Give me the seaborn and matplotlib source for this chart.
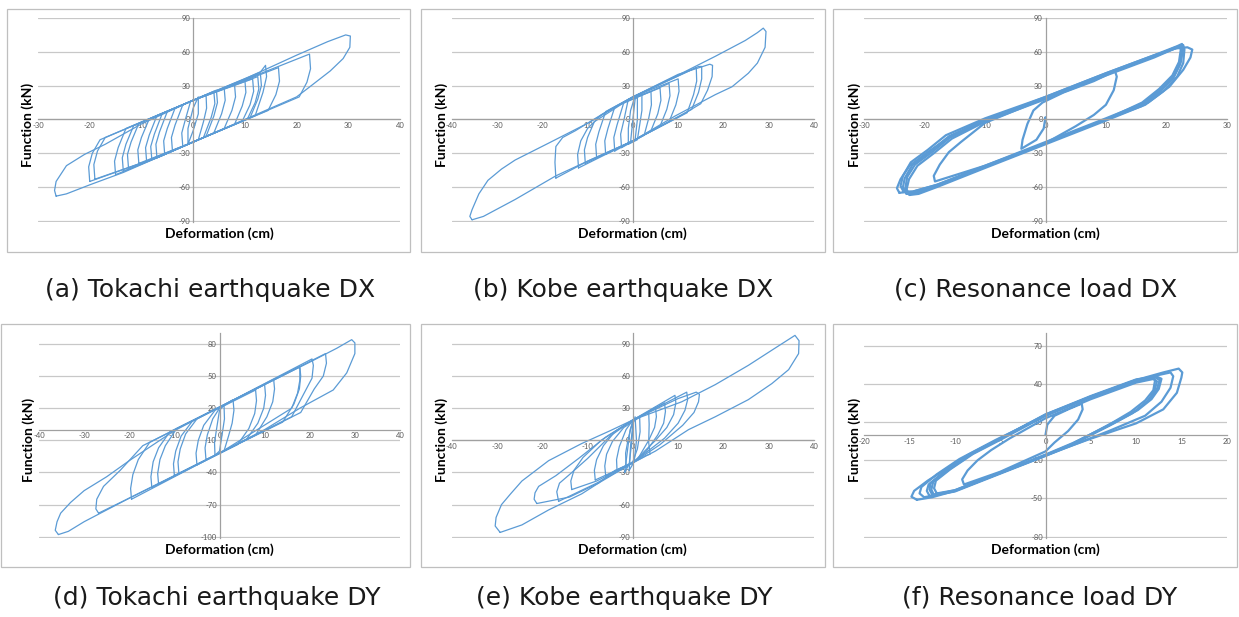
import matplotlib
matplotlib.use("Agg")
import matplotlib.pyplot as plt
import pandas as pd
import seaborn as sns
from matplotlib.patches import Rectangle

# ---- loops: (deformation cm, force kN) ----
tokachi_dx = [
    [(-26.5,-68),(-26.8,-63),(-26.5,-55),(-24.5,-41),(-21,-31),(-17,-22),(-10,-4),(0,17),(10,36),(20,57),(26,69),(29.5,75),(30.4,74),(30.3,64),(29,54),(26.5,43),(22,27),(20,20),(10,0),(0,-20),(-6.5,-33),(-13.5,-47),(-20,-58),(-24.5,-66),(-26.5,-68)],
    [(-20,-55),(-20.2,-42),(-19.5,-30),(-18,-18),(0,17),(22.5,58),(22.7,45),(22,33),(20.5,20),(0,-20),(-6.5,-33),(-20,-55)],
    [(-19,-53),(-19.2,-40),(-18.5,-28),(-17,-16),(0,17),(16.5,46),(16.7,34),(16,22),(14.5,8),(0,-20),(-6.5,-33),(-19,-53)],
    [(-13.5,-46),(-13.7,-34),(-13,-22),(-11.5,-5.5),(0,17),(13,42),(14,48),(14.2,38),(13.5,24),(12,3.4),(0,-20),(-6.5,-33),(-13.5,-46)],
    [(-15,-49),(-15.2,-37),(-14.5,-25),(-13,-8),(0,17),(13,41),(13.2,30),(12.5,18),(11,1.5),(0,-20),(-6.5,-33),(-15,-49)],
    [(-12.5,-43),(-12.7,-31),(-12,-20),(-10.5,-3.5),(0,17),(12.5,38),(12.7,27),(12,15),(10.5,0.5),(0,-20),(-6.5,-33),(-12.5,-43)],
    [(-10.5,-39),(-10.7,-27),(-10,-16),(-8.5,0.4),(0,17),(11.5,36),(11.7,25),(11,13),(9.5,-1.5),(0,-20),(-10.5,-39)],
    [(-9,-37),(-9.2,-25),(-8.5,-14),(-7,3.4),(0,17),(10,35),(10.2,24),(9.5,12),(8,-4.4),(0,-20),(-9,-37)],
    [(-8,-35),(-8.2,-24),(-7.5,-13),(-6,5),(0,17),(4.5,26),(4.7,15),(4,3),(2.5,-15),(0,-20),(-8,-35)],
    [(-7,-34),(-7.2,-22),(-6.5,-11),(-5,7),(0,17),(8,31),(8.2,20),(7.5,8),(6,-8),(0,-20),(-7,-34)],
    [(-5.5,-31),(-5.7,-19),(-5,-8),(-3.5,10),(0,17),(6,28),(6.2,17),(5.5,5),(4,-12),(0,-20),(-5.5,-31)],
    [(-4,-28),(-4.2,-16),(-3.5,-5),(-2,13),(4,25),(4.2,14),(3.5,2),(2,-16),(-4,-28)],
    [(-2,-24),(-2.2,-12),(-1.5,0),(-0.5,16),(2.5,22),(2.6,10),(2,-2),(1,-18),(-2,-24)],
    [(-1,-22),(-1,-8),(0,10),(1,20),(1,5),(0,-10),(-1,-22)],
]

kobe_dx = [
    [(-35.5,-89),(-36,-86),(-35.5,-80),(-34,-66),(-32,-54),(-29,-44),(-26,-36),(-18.6,-21),(-9.8,-3),(0,20),(10.8,41),(18.2,56),(24.8,70),(27.5,77),(28.8,81),(29.4,78),(29.2,64),(27.5,50),(25.5,41),(21.9,29),(18.2,22),(9.3,3),(0,-19),(-10,-37),(-17,-50),(-26,-71),(-33,-86),(-35.5,-89)],
    [(-17,-52),(-17.2,-38),(-17,-24),(-15.5,-16),(-12.7,-10),(-5,9),(0,20),(10,40),(17,49),(17.6,48),(17.5,38),(16.5,26),(15,14),(10,2),(0,-19),(-10,-37),(-17,-52)],
    [(-12,-43),(-12.2,-31),(-11.5,-19),(-10,-8),(-7,4),(0,20),(14.5,47),(15.2,47),(15.2,36),(14.5,24),(13,9),(0,-19),(-12,-43)],
    [(-10.5,-39),(-10.7,-27),(-10,-16),(-8.5,-2),(0,20),(14,46),(14.1,34),(13.4,22),(12,6),(0,-19),(-10.5,-39)],
    [(-8,-34),(-8.2,-22),(-7.5,-11),(-6,7),(0,20),(10,36),(10.2,25),(9.5,13),(8,-2),(0,-19),(-8,-34)],
    [(-6,-31),(-6.2,-19),(-5.5,-8),(-4,11),(8,32),(8.2,21),(7.5,9),(6,-6),(0,-19),(-6,-31)],
    [(-4,-28),(-4.2,-16),(-3.5,-5),(-2,15),(6,28),(6.2,17),(5.5,5),(4,-10),(-4,-28)],
    [(-2.5,-25),(-2.7,-13),(-2,-1),(-1,18),(4,25),(4.1,13),(3.5,1),(2.5,-14),(-2.5,-25)],
    [(-1,-22),(-1,-8),(-0.5,8),(0.5,21),(2,23),(2,8),(1.5,-5),(1,-18),(-1,-22)],
    [(-0.5,-20),(0,0),(0.5,18),(1,20),(1,0),(0.5,-18),(-0.5,-20)],
]

resonance_dx = [
    [(0,0),(0,2),(-0.3,-8),(-1.5,-18),(-4,-26),(-3.8,-18),(-3,-4),(-2,8),(-0.5,15),(3,24),(8,34),(11.5,43),(11.8,38),(11.3,26),(10,13),(8,4),(5,-6),(0,-21),(-10,-41),(-18.3,-55),(-18.5,-50),(-17.5,-40),(-16,-29),(-14,-20),(-10,-3),(0,19),(10,40),(20,60),(22.5,65)],
    [(-23,-66),(-23.6,-60),(-23.3,-52),(-22,-40),(-19,-28),(-16,-15),(-10,0),(0,19),(10,40),(18,56),(21.5,64),(22.8,66),(23,62),(22.8,50),(21.8,38),(19.5,25),(16.5,13),(10,0),(0,-21),(-10,-42),(-18,-59),(-21.5,-65),(-23,-66)],
    [(-24.2,-65),(-24.6,-61),(-24,-53),(-22.5,-41),(-19.5,-29),(-16,-16),(-10,-1),(0,20),(10,41),(18,57),(21.5,63),(23.5,64),(24.3,62),(24,55),(22.8,44),(20.5,29),(17,15),(10,0),(0,-21),(-10,-42),(-18,-58),(-22,-64),(-24.2,-65)],
    [(-22.5,-67),(-23,-62),(-22.6,-53),(-21.2,-41),(-18.5,-30),(-15.5,-17),(-10,-2),(0,18),(10,39),(18,55),(21,62),(22.3,65),(22.6,61),(22.3,49),(21.2,37),(19,25),(16,12),(10,-1),(0,-22),(-10,-43),(-18,-60),(-21,-66),(-22.5,-67)],
    [(-23.5,-64),(-24,-59),(-23.6,-50),(-22.3,-38),(-19.5,-27),(-16.5,-14),(-10,1),(0,20),(10,41),(18,57),(21.8,65),(22.6,67),(22.8,63),(22.4,51),(21.3,39),(19,26),(16,14),(10,1),(0,-20),(-10,-41),(-18,-58),(-22,-64),(-23.5,-64)],
    [(-22.8,-66),(-23.2,-61),(-22.9,-51),(-21.6,-40),(-18.8,-29),(-15.8,-16),(-10,-1),(0,19),(10,40),(18,56),(21.2,63),(22.1,65),(22.4,62),(22.1,51),(21,39),(18.8,27),(16,15),(10,0),(0,-21),(-10,-42),(-18,-59),(-21.2,-65),(-22.8,-66)],
]

tokachi_dy = [
    [(-35.7,-98),(-36.4,-94),(-36,-86),(-35.2,-78),(-33,-68),(-30,-57),(-25,-44),(-20,-29),(-15,-15),(-10,-1),(0,21),(10,42),(20,63),(26,76),(29.3,84),(30,81),(30,71),(28.2,53),(25.2,37),(17.8,20),(10,0),(0,-22),(-10,-43),(-20,-64),(-30,-86),(-33.5,-95),(-35.7,-98)],
    [(-26.8,-78),(-27.4,-74),(-27.2,-65),(-25.7,-53),(-22,-38),(-17,-15),(0,21),(23.5,71),(23.7,62),(23,50),(21,38),(18,16),(0,-22),(-20,-64),(-26.8,-78)],
    [(-19.5,-65),(-19.7,-55),(-19.2,-42),(-18,-28),(-15.5,-12),(0,21),(20.5,66),(20.8,60),(20.5,48),(19,36),(16,12),(0,-22),(-19.5,-65)],
    [(-15,-54),(-15.2,-44),(-14.7,-30),(-13.5,-17),(-11,-2),(0,21),(17.8,59),(18,50),(17.7,38),(16.5,24),(14,7),(0,-22),(-15,-54)],
    [(-13.5,-51),(-13.7,-41),(-13.2,-28),(-12,-15),(-9.5,1),(0,21),(17.5,58),(17.8,57),(17.8,46),(17.3,34),(16,20),(0,-22),(-13.5,-51)],
    [(-10,-43),(-10.2,-32),(-9.7,-20),(-8.5,-6),(-6,8),(0,21),(12,47),(12.2,38),(11.8,26),(10.5,12),(8,-5),(0,-22),(-10,-43)],
    [(-9,-41),(-9.2,-30),(-8.7,-18),(-7.5,-4),(-5,10),(10,42),(10.2,32),(9.8,20),(8.5,6),(6,-9),(-9,-41)],
    [(-5,-33),(-5.2,-22),(-4.7,-10),(-3.5,4),(-1,18),(8,37),(8.2,27),(7.8,15),(6.5,1),(4,-14),(-5,-33)],
    [(-3,-28),(-3.2,-17),(-2.7,-5),(-1.5,10),(0,20),(3,28),(3.2,18),(2.8,6),(2,-6),(1,-20),(-3,-28)],
    [(-1,-24),(-1.1,-12),(-0.6,2),(0,18),(1,23),(1.1,10),(0.6,-4),(0,-20),(-1,-24)],
]

kobe_dy = [
    [(-29.3,-86),(-30.4,-80),(-30.2,-72),(-29,-60),(-27,-50),(-24.5,-38),(-18.6,-19),(-11.3,-3),(-5,9),(0,19),(10.8,36),(18.2,52),(25.5,70),(31,85),(35.8,98),(36.7,93),(36.6,81),(34.4,66),(30.7,53),(25.5,38),(18.2,22),(12.3,10),(5,-10),(0,-21),(-3.9,-28),(-7.6,-40),(-11.3,-50),(-18.6,-65),(-24.5,-79),(-29.3,-86)],
    [(-21.2,-59),(-21.8,-55),(-21.6,-49),(-20.8,-43),(-17,-33),(-12,-17),(-6,3),(0,19),(10,39),(14,45),(14.7,43),(14.5,36),(13.5,26),(11,14),(6,-4),(0,-21),(-7.6,-40),(-14,-53),(-21.2,-59)],
    [(-16.4,-57),(-16.8,-48),(-16.2,-40),(-14,-32),(-10,-17),(-5,4),(0,19),(11.9,45),(12.1,38),(11.5,28),(10,16),(7,2),(0,-21),(-8,-40),(-16.4,-57)],
    [(-13.5,-46),(-13.7,-38),(-13,-28),(-11,-16),(-7,0),(0,19),(9.3,42),(9.5,35),(9,24),(7.5,12),(5,0),(0,-21),(-8,-38),(-13.5,-46)],
    [(-8.3,-37),(-8.5,-28),(-8,-18),(-6.5,-5),(-4,8),(0,19),(7,35),(7.2,27),(6.8,16),(5.5,5),(3,-10),(0,-21),(-8.3,-37)],
    [(-6,-33),(-6.2,-24),(-5.8,-13),(-4.5,-1),(-2,12),(5,31),(5.2,22),(4.8,12),(3.5,0),(1,-18),(-6,-33)],
    [(-3.5,-28),(-3.6,-18),(-3,-6),(-1.5,10),(0,19),(3.5,26),(3.6,15),(3.5,-2),(3.8,-13),(3,-14),(0,-21),(-3.5,-28)],
    [(-1.5,-25),(-1.6,-12),(-1,2),(0,18),(1.5,22),(1.6,8),(1,-8),(0,-20),(-1.5,-25)],
    [(-0.8,-28),(-0.5,-5),(0,15),(0.5,22),(0.8,0),(0.3,-20),(-0.8,-28)],
    [(-1.8,-30),(-1.2,-10),(-0.6,10),(0.2,20),(-0.2,0),(-0.8,-22),(-1.8,-30)],
]

resonance_dy = [
    [(0,0),(0.2,8),(1,15),(2.5,20),(4,24.5),(4.1,20),(3.6,12),(2.5,3),(1,-6),(0,-13),(-5,-29),(-9,-39),(-9.2,-35),(-8.6,-28),(-7.5,-20),(-6,-12),(-4,-3),(0,13),(5,28),(10,41),(12,44)],
    [(-14.2,-51),(-14.8,-48.6),(-14.5,-44),(-13,-36),(-11,-27),(-8.3,-15),(-5,-3),(0,15.5),(5,30),(10,43),(13,49),(14.7,52),(15.1,49),(15,45),(14.5,33),(13,20),(10,9),(5,-3),(0,-16),(-5,-30),(-10,-44),(-12.5,-49),(-14.2,-51)],
    [(-13.4,-49),(-13.9,-46),(-13.7,-41),(-12,-31),(-9.5,-19),(-5.5,-4),(0,15),(5,29.5),(10,42.5),(12.5,47),(13.8,49),(14.1,46),(13.8,37),(12.8,26),(11,15),(7,3),(0,-16.5),(-5,-30.5),(-10,-44.5),(-13.4,-49)],
    [(-12.5,-47),(-12.8,-43),(-12.7,-38),(-10.9,-28),(-8.3,-15),(-5,-3),(0,15.5),(5,30),(10,43),(12,45.5),(12.6,43),(12.3,36),(11.5,28),(10,19),(7,8),(3,-7),(0,-16),(-5,-30),(-10,-44),(-12.5,-47)],
    [(-12,-46),(-12.3,-42),(-12.1,-36),(-10.5,-27),(-8,-15),(-5,-4),(0,15),(5,30),(10,42),(11.8,44.5),(12.3,42),(12,34),(11.2,26),(9.6,17),(7,7),(3,-7.5),(0,-16.5),(-5,-30),(-10,-43.5),(-12,-46)],
    [(-12.8,-48),(-13.1,-44),(-12.9,-39),(-11.2,-29),(-8.6,-16),(-5.2,-3.5),(0,16),(5,30.5),(10,43.5),(12.2,46),(12.8,44),(12.5,36),(11.7,28),(10.2,19.5),(7.5,9),(3,-6.5),(0,-15.5),(-5,-29.5),(-10,-43.5),(-12.8,-48)],
    [(-12.3,-47.5),(-12.6,-43),(-12.4,-37),(-10.7,-27.5),(-8.1,-15),(-4.8,-2.5),(0,16),(5,30),(10,43),(11.6,45),(12.1,43),(11.9,35),(11,27),(9.4,18),(6.8,7),(3,-7),(0,-16),(-5,-30),(-10,-44),(-12.3,-47.5)],
]

captions = ["(a) Tokachi earthquake DX", "(b) Kobe earthquake DX", "(c) Resonance load DX",
            "(d) Tokachi earthquake DY", "(e) Kobe earthquake DY", "(f) Resonance load DY"]

xticks_a = [-30, -20, -10, 0, 10, 20, 30, 40]
xticks_be = [-40, -30, -20, -10, 0, 10, 20, 30, 40]
xticks_c = [-30, -20, -10, 0, 10, 20, 30]
xticks_f = [-20, -15, -10, -5, 0, 5, 10, 15, 20]
yticks_top = [-90, -60, -30, 0, 30, 60, 90]
yticks_d = [-100, -70, -40, -10, 20, 50, 80]
yticks_f = [-80, -50, -20, 10, 40, 70]

W, H = 1239, 617
LINE = "#5B9BD5"

sns.set_theme(style="white")
plt.rcParams["font.family"] = ["Lato", "DejaVu Sans"]
plt.rcParams["axes.unicode_minus"] = False

fig = plt.figure(figsize=(W / 100, H / 100), dpi=100)
fig.patch.set_facecolor("white")

# pixel layout: axes (left, top, right, bottom), frame (left, top, right, bottom)
panels = [
    dict(loops=tokachi_dx, xlim=(-30, 40), xt=xticks_a, ylim=(-90.6, 90), yt=yticks_top,
         ax=(38, 18, 400, 221.6), box=(7, 9, 410, 252), cap=(210, 297)),
    dict(loops=kobe_dx, xlim=(-40, 40), xt=xticks_be, ylim=(-90.6, 90), yt=yticks_top,
         ax=(451.7, 18, 814, 221.6), box=(421, 9, 825, 252), cap=(623, 297)),
    dict(loops=resonance_dx, xlim=(-30, 30), xt=xticks_c, ylim=(-90.6, 90), yt=yticks_top,
         ax=(864.3, 18, 1226.7, 221.6), box=(833, 9, 1237, 252), cap=(1036, 297)),
    dict(loops=tokachi_dy, xlim=(-40, 40), xt=xticks_be, ylim=(-101.3, 90.5), yt=yticks_d,
         ax=(39, 332.7, 400, 538.1), box=(1, 324, 410, 567), cap=(217, 605)),
    dict(loops=kobe_dy, xlim=(-40, 40), xt=xticks_be, ylim=(-91.3, 100.5), yt=yticks_top,
         ax=(451.7, 332.7, 814, 538.1), box=(421, 324, 825, 567), cap=(624, 605)),
    dict(loops=resonance_dy, xlim=(-20, 20), xt=xticks_f, ylim=(-81.1, 80.2), yt=yticks_f,
         ax=(864.3, 332.7, 1226.7, 538.1), box=(833, 324, 1237, 567), cap=(1040, 605)),
]

for i, p in enumerate(panels):
    bl, bt, br, bb = p["box"]
    fig.patches.append(Rectangle((bl / W, 1 - bb / H), (br - bl) / W, (bb - bt) / H,
                                 transform=fig.transFigure, fill=False,
                                 edgecolor="#BFBFBF", lw=0.9))
    l, t, r, b = p["ax"]
    ax = fig.add_axes([l / W, 1 - b / H, (r - l) / W, (b - t) / H])
    ax.set_facecolor("none")

    rows = [(k, x, y) for k, loop in enumerate(p["loops"]) for x, y in loop]
    df = pd.DataFrame(rows, columns=["loop", "x", "y"])
    lw = 1.6 if i in (2, 5) else 0.9
    sns.lineplot(data=df, x="x", y="y", units="loop", estimator=None, sort=False,
                 color=LINE, lw=lw, ax=ax, legend=False)

    ax.set_xlim(p["xlim"])
    ax.set_ylim(p["ylim"])
    ax.set_xticks(p["xt"])
    ax.set_yticks(p["yt"])
    ax.set_xlabel("")
    ax.set_ylabel("")
    ax.grid(axis="y", color="#C8C8C8", lw=0.9)
    ax.grid(axis="x", visible=False)
    for gl in ax.get_ygridlines():
        gl.set_clip_on(False)
    ax.set_axisbelow(True)
    for s in ("top", "right"):
        ax.spines[s].set_visible(False)
    for s in ("left", "bottom"):
        ax.spines[s].set_position(("data", 0))
        ax.spines[s].set_color("#A0A0A0")
        ax.spines[s].set_linewidth(0.9)
    ax.tick_params(length=0, pad=2, labelsize=5.5, labelcolor="#595959")

    cx = (l + r) / 2
    fig.text(cx / W, 1 - (b + 12) / H, "Deformation (cm)", ha="center", va="center",
             fontsize=10, fontweight="bold", color="#000000")
    fig.text((l - 10) / W, 1 - ((t + b) / 2 + 5) / H, "Function (kN)", ha="center",
             va="center", rotation=90, fontsize=10, fontweight="bold", color="#000000")

    fig.text(p["cap"][0] / W, 1 - p["cap"][1] / H, captions[i], ha="center",
             va="baseline", fontsize=18, family="DejaVu Sans", color="#1a1a1a")

fig.savefig("out.png", dpi=100, facecolor="white")
